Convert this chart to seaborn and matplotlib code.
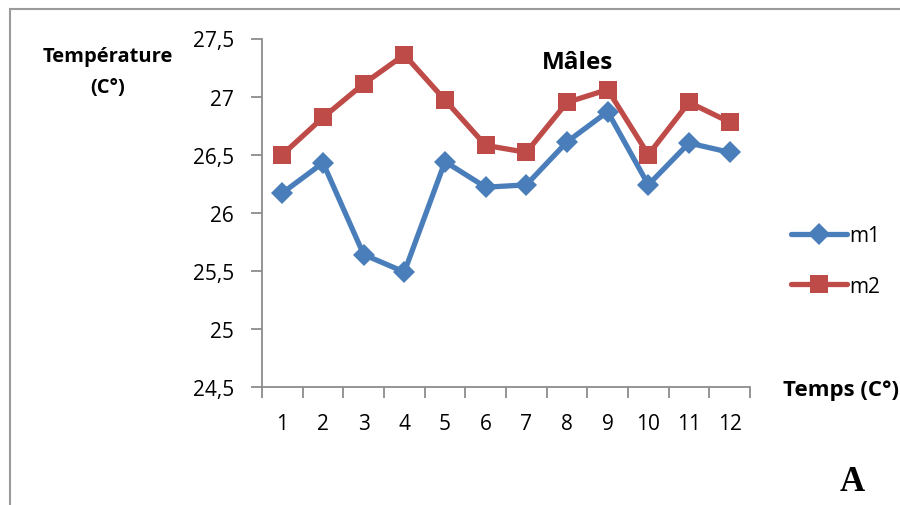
import matplotlib
matplotlib.use("Agg")
import matplotlib.pyplot as plt
import matplotlib.patches as mpatches
from matplotlib.ticker import FixedLocator, FuncFormatter
import pandas as pd
import seaborn as sns

# Monthly temperature readings for the two male series
months = [1, 2, 3, 4, 5, 6, 7, 8, 9, 10, 11, 12]
m1 = [26.17, 26.43, 25.64, 25.49, 26.44, 26.22, 26.24, 26.61, 26.87, 26.24, 26.60, 26.52]
m2 = [26.50, 26.82, 27.11, 27.36, 26.97, 26.58, 26.52, 26.95, 27.06, 26.50, 26.95, 26.78]
series_names = ["m1", "m2"]
y_ticks = [24.5, 25.0, 25.5, 26.0, 26.5, 27.0, 27.5]

df = pd.concat([
    pd.DataFrame({"Temps": months, "Température": m1, "série": "m1"}),
    pd.DataFrame({"Temps": months, "Température": m2, "série": "m2"}),
])

sns.set_style("white")
plt.rcParams["font.family"] = ["Open Sans", "DejaVu Sans"]
plt.rcParams["text.color"] = "black"

fig = plt.figure(figsize=(9, 5.06), dpi=100)
ax = fig.add_axes([262 / 900, 118 / 506, 488 / 900, 348.5 / 506])

palette = {"m1": "#4A7EBB", "m2": "#BE4B48"}
markers = {"m1": "D", "m2": "s"}
sizes = {"m1": 11.5, "m2": 13.5}
for name in series_names:
    sub = df[df["série"] == name]
    sns.lineplot(data=sub, x="Temps", y="Température", ax=ax, color=palette[name],
                 marker=markers[name], markersize=sizes[name], linewidth=3.8,
                 markeredgewidth=0, label=name, legend=False)

ax.set_xlim(0.5, 12.5)
ax.set_ylim(24.5, 27.5)
ax.set_xlabel("")
ax.set_ylabel("")

gray = "#8C8C8C"
for side in ["top", "right"]:
    ax.spines[side].set_visible(False)
for side in ["left", "bottom"]:
    ax.spines[side].set_color(gray)
    ax.spines[side].set_linewidth(1.3)

ax.yaxis.set_major_locator(FixedLocator(y_ticks))
ax.yaxis.set_major_formatter(FuncFormatter(lambda v, p: f"{v:g}".replace(".", ",")))
ax.tick_params(axis="y", which="major", direction="out", length=8, width=1.3,
               color=gray, labelsize=15, pad=12, left=True, labelcolor="black")
ax.xaxis.set_major_locator(FixedLocator(months))
ax.xaxis.set_minor_locator(FixedLocator([i + 0.5 for i in range(0, 13)]))
ax.tick_params(axis="x", which="major", length=0, labelsize=15, pad=19, bottom=True,
               labelcolor="black")
ax.tick_params(axis="x", which="minor", direction="out", length=8, width=1.3,
               color=gray, bottom=True)

# Legend drawn beside the plot
handles = [plt.Line2D([], [], color=palette[n], marker=markers[n], markersize=sizes[n],
                      markeredgewidth=0, linewidth=3.8) for n in series_names]
fig.legend(handles, series_names, loc="center left", bbox_to_anchor=(772 / 900, 1 - 262 / 506),
           frameon=False, fontsize=15, handlelength=2.7, handletextpad=0.1,
           labelspacing=1.4, labelcolor="black")

fig.text(108 / 900, 1 - 57 / 506, "Température", ha="center", va="center",
         fontsize=14.5, fontweight="bold")
fig.text(108 / 900, 1 - 88 / 506, "(C°)", ha="center", va="center",
         fontsize=14.5, fontweight="bold")
fig.text(578 / 900, 1 - 63 / 506, "Mâles", ha="center", va="center",
         fontsize=17.5, fontweight="bold")
fig.text(783 / 900, 1 - 391 / 506, "Temps (C°)", ha="left", va="center",
         fontsize=16, fontweight="bold")
fig.text(852 / 900, 1 - 483 / 506, "A", ha="center", va="center",
         fontsize=25, fontweight="bold", family="Liberation Serif")

# Outer frame around the figure
frame = mpatches.Rectangle((9.5 / 900, -0.1), 1.2, 1.1 - 9.5 / 506,
                           transform=fig.transFigure, fill=False,
                           edgecolor="#9A9A9A", linewidth=1.5, clip_on=False)
fig.patches.append(frame)

fig.savefig("out.png", dpi=100)
